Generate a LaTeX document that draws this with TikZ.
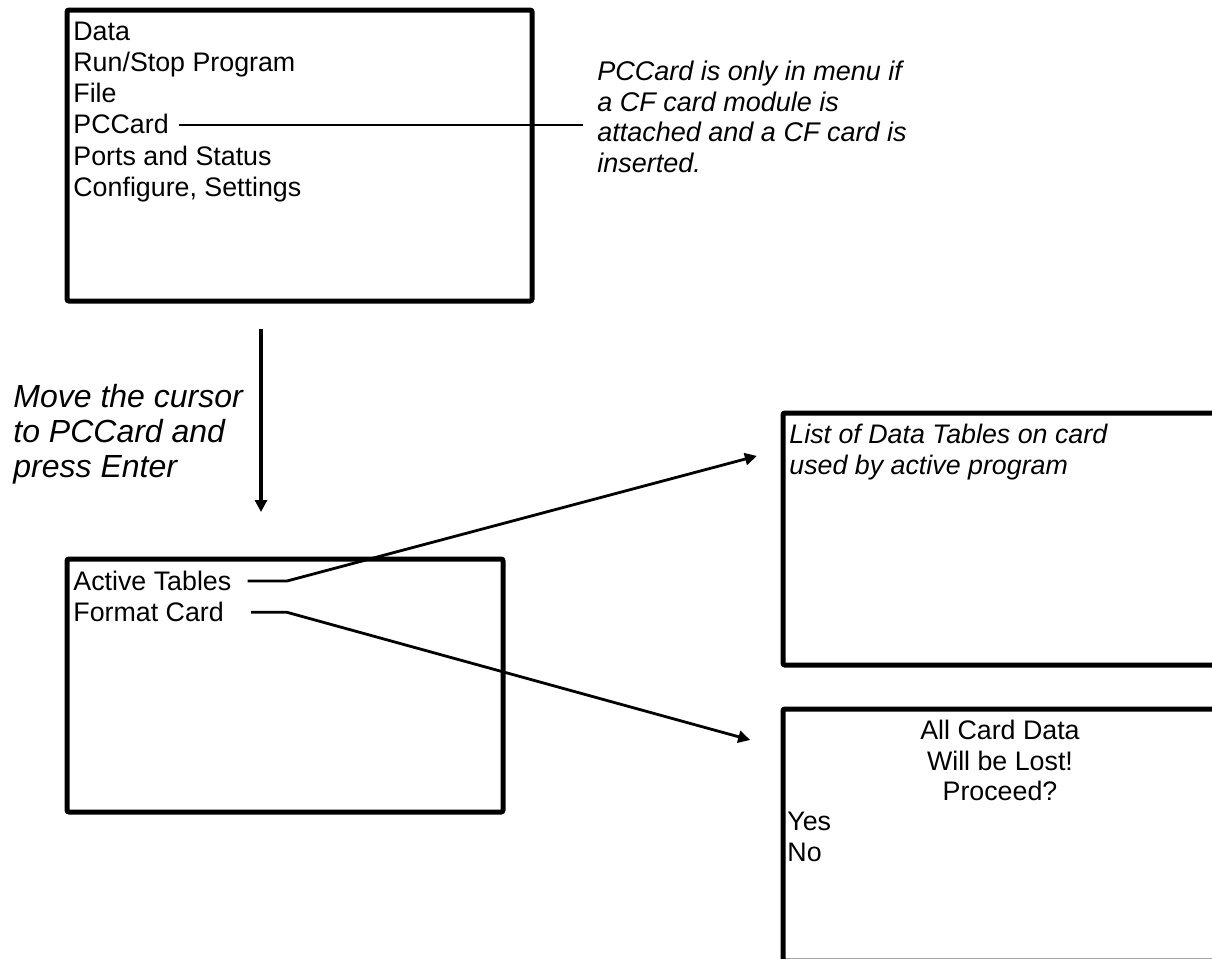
\documentclass[tikz,border=0pt]{standalone}
\usepackage{fontspec}
\setmainfont{Liberation Sans}
\usetikzlibrary{arrows.meta,positioning,calc}

\begin{document}
\begin{tikzpicture}[x=0.5pt,y=-0.5pt,>={Triangle[length=6pt,width=6pt]},
        screen/.style={draw,line width=2.5pt,rounded corners=1pt,inner sep=0pt,
                   outer sep=0pt,anchor=north west},
        item/.style={inner sep=0pt,anchor=base west,text height=12.125pt,text depth=3.125pt,
                   font=\fontsize{13.4}{15.25}\selectfont},
        remark/.style={inner sep=0pt,anchor=north west,align=left,
                   font=\fontsize{13.5}{15.25}\selectfont\itshape},
        link/.style={->,line width=1.4pt},
        flow/.style={->,line width=1.6pt}]
        \useasboundingbox (0,0) rectangle (1212,959);
        \clip (0,0) rectangle (1212,959);
        % main menu
        \node[screen,minimum width=232.5pt,minimum height=145.5pt] (mainmenu) at (67,10) {};
        \node[item] (data) at (73,40) {Data};
        \node[item,below=0pt of data.south west,anchor=north west] (runstop) {Run/Stop Program};
        \node[item,below=0pt of runstop.south west,anchor=north west] (file) {File};
        \node[item,below=0pt of file.south west,anchor=north west] (pccard) {PCCard};
        \node[item,below=0pt of pccard.south west,anchor=north west] (ports) {Ports and Status};
        \node[item,below=0pt of ports.south west,anchor=north west] (config) {Configure, Settings};
        \node[remark] (note) at (597,61) {PCCard is only in menu if\\a CF card module is\\attached and a CF card is\\inserted.};
        \draw[line width=0.8pt,shorten <=5pt,shorten >=7pt] (pccard.east) -- (pccard.east -| note.west);
        % PCCard menu
        \node[screen,minimum width=218pt,minimum height=126.5pt] (cardmenu) at (67,559) {};
        \node[item] (active) at (73,590) {Active Tables};
        \node[item,below=0pt of active.south west,anchor=north west] (format) {Format Card};
        % step down
        \node[remark,font=\fontsize{16}{17.5}\selectfont\itshape] (hint) at (13,384) {Move the cursor\\to PCCard and\\press Enter};
        \coordinate (cue) at (261,420);
        \draw[flow,shorten <=14pt,shorten >=23.5pt] (mainmenu.south -| cue) -- (cardmenu.north -| cue);
        % result screens
        \node[screen,minimum width=217pt,minimum height=126pt] (tablesbox) at (783,413) {};
        \node[remark,font=\fontsize{13.4}{15.25}\selectfont\itshape] (tableslist) at (789,424) {List of Data Tables on card\\used by active program};
        \node[screen,minimum width=217pt,minimum height=126pt] (formatbox) at (783,709) {};
        \node[inner sep=0pt,anchor=north,align=center,font=\fontsize{13.4}{15.25}\selectfont] (warning) at (1000,720) {All Card Data\\Will be Lost!\\Proceed?};
        \node[item] (yes) at (787,830) {Yes};
        \node[item,below=0pt of yes.south west,anchor=north west] (no) {No};
        \coordinate (bend) at (287,0);
        \draw[link,shorten <=8pt,shorten >=13.5pt] (active.east) -- (active.east -| bend) -- ($(tablesbox.north west)+(0,36)$);
        \draw[link,shorten <=13.5pt,shorten >=17pt] (format.east) -- (format.east -| bend) -- ($(formatbox.north west)+(0,40)$);
      \end{tikzpicture}
\end{document}
